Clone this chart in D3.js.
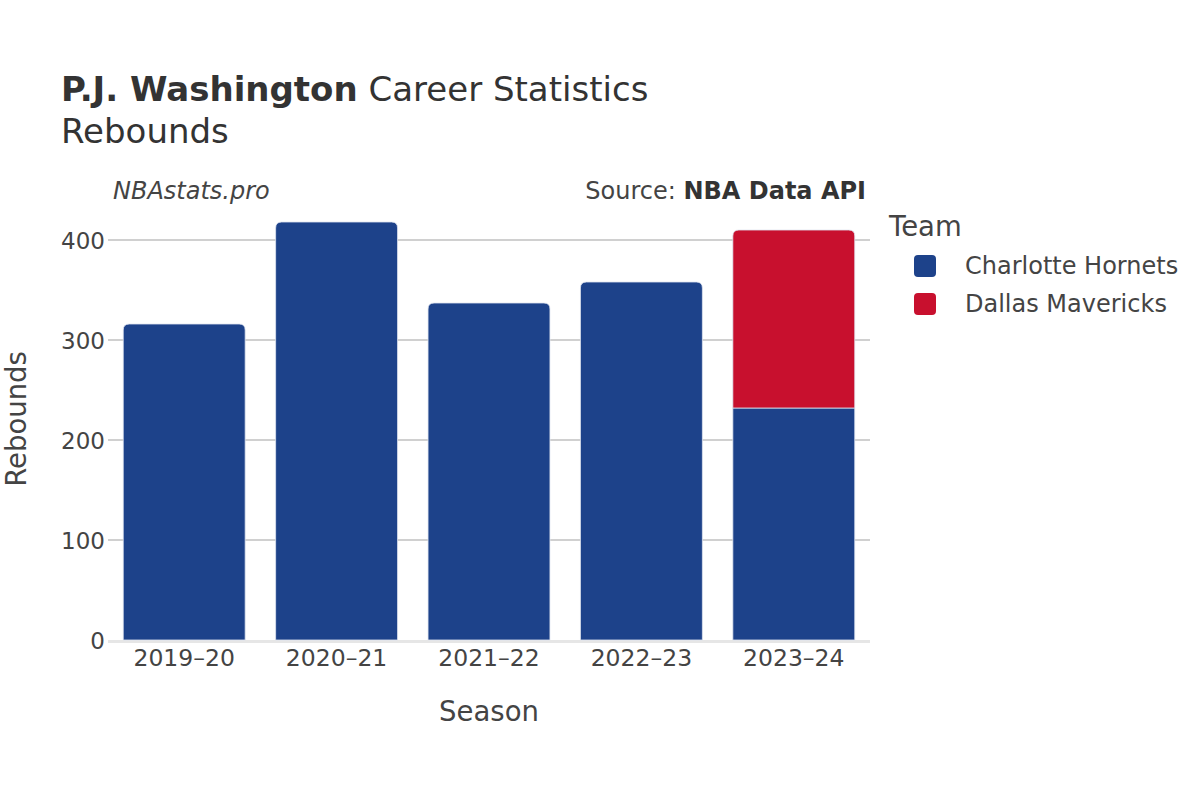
<!DOCTYPE html>
<html>
<head>
<meta charset="utf-8">
<script src="https://cdn.jsdelivr.net/npm/d3@7/dist/d3.min.js"></script>
<style>
 body { margin: 0; background: #fff; }
 svg { font-family: "DejaVu Sans", sans-serif; }
</style>
</head>
<body>
<svg id="chart" width="1200" height="800"></svg>
<script>
var seasons = ["2019–20", "2020–21", "2021–22", "2022–23", "2023–24"];
var teams = ["Charlotte Hornets", "Dallas Mavericks"];
var teamColors = ["#1d428a", "#c8102e"];
// rebounds per season, per team
var hornets = [316, 418, 337, 358, 232];
var mavericks = [0, 0, 0, 0, 178];
var yTicks = [0, 100, 200, 300, 400];

var svg = d3.select("#chart");
var margin = {top: 208, right: 330, bottom: 160, left: 108};
var W = 1200, H = 800;

var x = d3.scaleBand().domain(seasons).range([margin.left, W - margin.right]).paddingInner(0.2).paddingOuter(0.1);
var y = d3.scaleLinear().domain([0, 432]).range([H - margin.bottom, margin.top]);
var color = d3.scaleOrdinal().domain(teams).range(teamColors);

var rows = seasons.map(function(s, i){ return {season: s, "Charlotte Hornets": hornets[i], "Dallas Mavericks": mavericks[i]}; });
var stacked = d3.stack().keys(teams)(rows);

// grid
svg.append("g").selectAll("line").data(yTicks.filter(function(d){ return d > 0; })).join("line")
    .attr("x1", margin.left).attr("x2", W - margin.right)
    .attr("y1", function(d){ return y(d); }).attr("y2", function(d){ return y(d); })
    .attr("stroke", "#c0c0c0").attr("stroke-width", 1.5);

svg.append("line")
    .attr("x1", margin.left).attr("x2", W - margin.right)
    .attr("y1", y(0) + 1.5).attr("y2", y(0) + 1.5)
    .attr("stroke", "#e6e6e6").attr("stroke-width", 3);

// which series is the top for each season
var topIdx = seasons.map(function(s, i){
    var t = 0;
    stacked.forEach(function(ser, k){ if (ser[i][1] - ser[i][0] > 0) t = k; });
    return t;
});

function barPath(x0, x1, y0, y1, r){
    r = Math.min(r, (y0 - y1));
    return "M" + x0 + "," + y0 + "V" + (y1 + r) + "Q" + x0 + "," + y1 + " " + (x0 + r) + "," + y1 +
        "H" + (x1 - r) + "Q" + x1 + "," + y1 + " " + x1 + "," + (y1 + r) + "V" + y0 + "Z";
}

stacked.forEach(function(ser, k){
    svg.append("g").selectAll("path").data(ser.map(function(d, i){ return {d: d, i: i}; })
        .filter(function(o){ return o.d[1] - o.d[0] > 0; })).join("path")
        .attr("d", function(o){
            var x0 = x(o.d.data.season), x1 = x0 + x.bandwidth();
            return barPath(x0, x1, y(o.d[0]), y(o.d[1]), topIdx[o.i] === k ? 6 : 0);
        })
        .attr("fill", color(ser.key))
        .attr("stroke", "#dfe4f0").attr("stroke-width", 0.8);
});

// axes
var yAxis = svg.append("g").attr("transform", "translate(" + (margin.left - 2) + ",0)")
    .call(d3.axisLeft(y).tickValues(yTicks).tickSize(0).tickPadding(1));
yAxis.select(".domain").remove();
yAxis.selectAll("text").attr("font-size", 23).attr("fill", "#444").attr("font-family", "DejaVu Sans").attr("dy", "0.35em");

var xAxis = svg.append("g").attr("transform", "translate(0," + (H - margin.bottom) + ")")
    .call(d3.axisBottom(x).tickSize(0).tickPadding(9));
xAxis.select(".domain").remove();
xAxis.selectAll("text").attr("font-size", 23.5).attr("fill", "#444").attr("font-family", "DejaVu Sans").attr("dy", "0.71em");

// titles
var title = svg.append("text").attr("x", 61).attr("y", 101).attr("font-size", 34).attr("fill", "#333");
title.append("tspan").attr("font-weight", "bold").text("P.J. Washington");
title.append("tspan").text(" Career Statistics");
svg.append("text").attr("x", 61).attr("y", 143).attr("font-size", 34).attr("fill", "#333").text("Rebounds");

svg.append("text").attr("x", 113).attr("y", 199).attr("font-size", 24).attr("font-style", "italic").attr("fill", "#444").text("NBAstats.pro");
var src = svg.append("text").attr("x", 866).attr("y", 199).attr("text-anchor", "end").attr("font-size", 24).attr("fill", "#444");
src.append("tspan").text("Source: ");
src.append("tspan").attr("font-weight", "bold").attr("fill", "#333").text("NBA Data API");

svg.append("text").attr("x", 489).attr("y", 721).attr("text-anchor", "middle").attr("font-size", 27.5).attr("fill", "#444").text("Season");
svg.append("text").attr("transform", "translate(26,419) rotate(-90)").attr("text-anchor", "middle").attr("font-size", 27.5).attr("fill", "#444").text("Rebounds");

// legend
svg.append("text").attr("x", 889).attr("y", 236).attr("font-size", 27.5).attr("fill", "#444").text("Team");
var leg = svg.append("g").selectAll("g").data(teams).join("g")
    .attr("transform", function(d, i){ return "translate(914," + (255 + i * 38) + ")"; });
leg.append("rect").attr("width", 22).attr("height", 22).attr("rx", 4).attr("fill", function(d){ return color(d); });
leg.append("text").attr("x", 51).attr("y", 19).attr("font-size", 24).attr("fill", "#444").text(function(d){ return d; });
</script>
</body>
</html>
